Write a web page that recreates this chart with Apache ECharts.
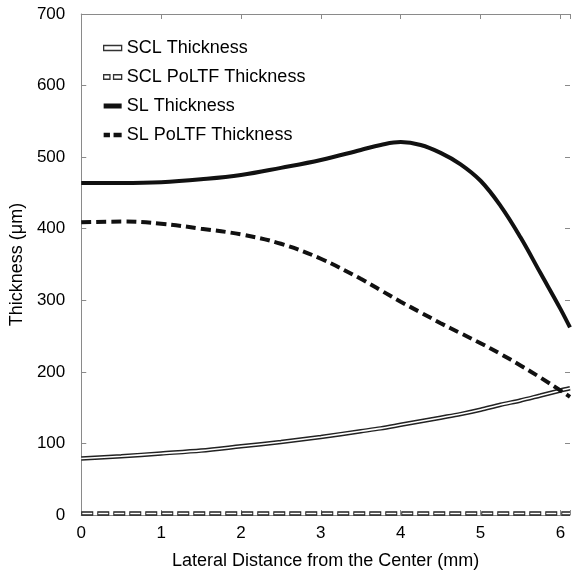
<!DOCTYPE html>
<html lang="en">
<head>
    <meta charset="UTF-8">
    <title>Thickness</title>
    <script type="text/javascript" src="https://cdn.jsdelivr.net/npm/echarts@6/dist/echarts.min.js"></script>
    <style>
        body {
            margin: 0;
        }
    </style>
</head>
<body>
<div id="chart" style="width:573px;height:575px;"></div>
<script>
    // lateral distance (mm)
    var distance = [0, 0.5, 1, 1.5, 2, 2.5, 3, 3.5, 3.75, 4, 4.25, 4.5, 4.75, 5, 5.25, 5.5, 5.75, 6, 6.12]
    // thickness (um)
    var scl_thickness = [79, 82, 86, 90, 96, 102, 109, 117, 121, 126, 131, 136, 141, 147, 154, 160, 167, 174, 177]
    var scl_poltf = [2, 2, 2, 2, 2, 2, 2, 2, 2, 2, 2, 2, 2, 2, 2, 2, 2, 2, 2]
    var sl_thickness = [464, 464, 465, 469, 475, 485, 496, 510, 517, 521, 517, 506, 490, 467, 432, 388, 338, 288, 262]
    var sl_poltf = [409, 410, 407, 400, 392, 379, 358, 330, 314, 298, 283, 268, 254, 240, 225, 209, 192, 174, 165]
    var x_ticks = [0, 1, 2, 3, 4, 5, 6]

    var font = 'Liberation Sans, Arial, sans-serif'
    var axis_color = '#8a8a8a'

    function pairs(ys) {
        var ret = []
        for (var i in distance) {
            ret.push([distance[i], ys[i]])
        }
        return ret
    }

    function int_label(v) {
        return x_ticks.indexOf(v) >= 0 ? String(v) : ''
    }

    var chart = echarts.init(document.getElementById('chart'))
    var option = {
        animation: false,
        grid: {left: 80, right: 0, top: 14, bottom: 59},
        legend: {
            left: 98,
            top: 34,
            orient: 'vertical',
            itemWidth: 18,
            itemHeight: 5,
            itemGap: 11,
            textStyle: {fontFamily: font, fontSize: 18, color: '#000'},
            data: [
                {name: 'SCL Thickness', icon: 'rect',
                    itemStyle: {color: '#fff', borderColor: '#333', borderWidth: 1.3}},
                {name: 'SCL PoLTF Thickness', icon: 'path://M0,0h7v5h-7z M11,0h9v5h-9z',
                    itemStyle: {color: '#fff', borderColor: '#333', borderWidth: 1.3}},
                {name: 'SL Thickness', icon: 'rect',
                    itemStyle: {color: '#111', borderWidth: 0}},
                {name: 'SL PoLTF Thickness', icon: 'path://M0,0h7v5h-7z M11,0h9v5h-9z',
                    itemStyle: {color: '#111', borderWidth: 0}}
            ]
        },
        xAxis: [{
            type: 'value',
            position: 'bottom',
            min: 0,
            max: 6.12,
            interval: 1,
            name: 'Lateral Distance from the Center (mm)',
            nameLocation: 'middle',
            nameGap: 37,
            nameTextStyle: {fontFamily: font, fontSize: 18, color: '#000'},
            axisLine: {onZero: false, lineStyle: {color: axis_color}},
            axisTick: {inside: true, length: 5, lineStyle: {color: axis_color}},
            axisLabel: {fontFamily: font, fontSize: 17, color: '#000', margin: 10, formatter: int_label},
            splitLine: {show: false}
        }, {
            type: 'value',
            position: 'top',
            min: 0,
            max: 6.12,
            interval: 1,
            axisLine: {onZero: false, lineStyle: {color: axis_color}},
            axisTick: {inside: true, length: 5, lineStyle: {color: axis_color}},
            axisLabel: {show: false},
            splitLine: {show: false}
        }],
        yAxis: [{
            type: 'value',
            position: 'left',
            min: 0,
            max: 700,
            interval: 100,
            name: 'Thickness (μm)',
            nameLocation: 'middle',
            nameGap: 52,
            nameTextStyle: {fontFamily: font, fontSize: 18, color: '#000'},
            axisLine: {show: true, onZero: false, lineStyle: {color: axis_color}},
            axisTick: {show: true, inside: true, length: 5, lineStyle: {color: axis_color}},
            axisLabel: {fontFamily: font, fontSize: 17, color: '#000', margin: 16},
            splitLine: {show: false}
        }, {
            type: 'value',
            position: 'right',
            min: 0,
            max: 700,
            interval: 100,
            axisLine: {show: false, onZero: false},
            axisTick: {show: true, inside: true, length: 5, lineStyle: {color: axis_color}},
            axisLabel: {show: false},
            splitLine: {show: false}
        }],
        series: [
            {
                name: 'SCL Thickness', type: 'line', smooth: 0.3, showSymbol: false,
                data: pairs(scl_thickness), color: '#222',
                lineStyle: {width: 4.5, color: '#222'}
            },
            {
                name: 'scl_inner', type: 'line', smooth: 0.3, showSymbol: false,
                data: pairs(scl_thickness), silent: true,
                lineStyle: {width: 1.6, color: '#fff'}
            },
            {
                name: 'SCL PoLTF Thickness', type: 'line', showSymbol: false,
                data: pairs(scl_poltf), color: '#222',
                lineStyle: {width: 4.5, color: '#222', type: [12, 4]}
            },
            {
                name: 'scl_poltf_inner', type: 'line', showSymbol: false,
                data: pairs(scl_poltf), silent: true,
                lineStyle: {width: 1.6, color: '#fff', type: [10, 6], dashOffset: -1}
            },
            {
                name: 'SL Thickness', type: 'line', smooth: 0.4, showSymbol: false,
                data: pairs(sl_thickness), color: '#111',
                lineStyle: {width: 4, color: '#111'}
            },
            {
                name: 'SL PoLTF Thickness', type: 'line', smooth: 0.4, showSymbol: false,
                data: pairs(sl_poltf), color: '#111',
                lineStyle: {width: 4, color: '#111', type: [10, 5]}
            }
        ]
    }
    chart.setOption(option)
</script>
</body>
</html>
